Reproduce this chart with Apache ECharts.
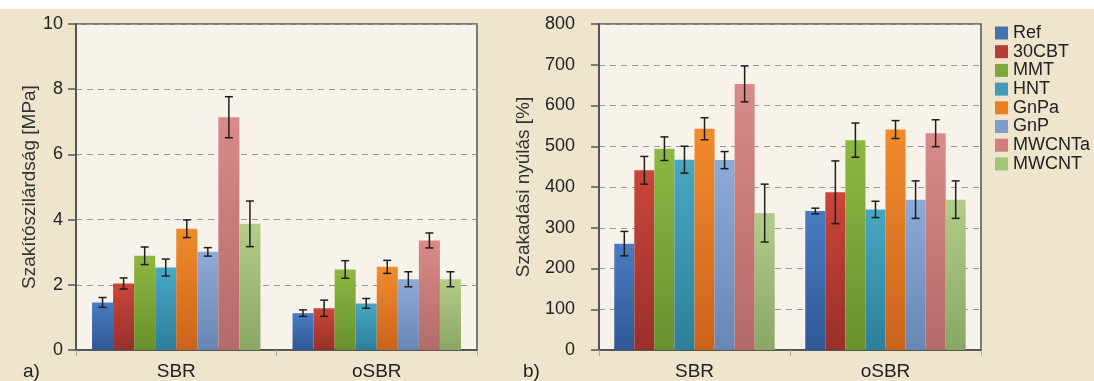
<!DOCTYPE html>
<html>
<head>
<meta charset="utf-8">
<script src="https://cdn.jsdelivr.net/npm/echarts@6/dist/echarts.min.js"></script>
<style>
html,body{margin:0;padding:0;}
body{width:1094px;height:381px;background:linear-gradient(to bottom,#ffffff 0,#ffffff 9px,#efe4cc 9px,#efe4cc 100%);}
#c{width:1094px;height:381px;}
</style>
</head>
<body>
<div id="c"></div>
<script>
const categories = ['SBR', 'oSBR'];
const seriesNames = ['Ref', '30CBT', 'MMT', 'HNT', 'GnPa', 'GnP', 'MWCNTa', 'MWCNT'];
// Tensile strength [MPa]
const tensileSBR     = [1.46, 2.04, 2.89, 2.53, 3.72, 3.01, 7.14, 3.87];
const tensileErrSBR  = [0.15, 0.17, 0.27, 0.26, 0.27, 0.13, 0.63, 0.70];
const tensileOSBR    = [1.13, 1.28, 2.47, 1.43, 2.55, 2.17, 3.36, 2.17];
const tensileErrOSBR = [0.10, 0.25, 0.27, 0.15, 0.20, 0.23, 0.23, 0.23];
// Elongation at break [%]
const elongSBR     = [261, 441, 494, 467, 543, 466, 653, 336];
const elongErrSBR  = [30, 34, 29, 33, 27, 21, 44, 71];
const elongOSBR    = [341, 387, 515, 345, 541, 369, 532, 369];
const elongErrOSBR = [7, 77, 42, 20, 22, 46, 33, 46];
const tensileTicks = { min: 0, max: 10, interval: 2 };
const elongTicks = { min: 0, max: 800, interval: 100 };

const colorsTop = ['#4a7cc2', '#c9463a', '#8db842', '#47a8c4', '#f28b2c', '#8eabd8', '#d98b89', '#b3cd88'];
const colorsBot = ['#2e5896', '#98302a', '#68902c', '#2e7f99', '#c9641b', '#6886b4', '#b36a68', '#8aa765'];
const legendColors = ['#4472b0', '#b63d33', '#7fa83a', '#3f9bb6', '#e8801f', '#7f9ccc', '#cf7f7d', '#a5c27c'];

const GAP = 0.16;
const N = seriesNames.length;

function barSeries(vals1, vals2, axisIdx) {
  return seriesNames.map((name, k) => ({
    type: 'bar', name: name,
    xAxisIndex: axisIdx, yAxisIndex: axisIdx,
    barGap: '0%', barCategoryGap: (GAP * 100) + '%',
    data: [vals1[k], vals2[k]],
    itemStyle: {
      color: new echarts.graphic.LinearGradient(0, 0, 0, 1, [
        { offset: 0, color: colorsTop[k] }, { offset: 1, color: colorsBot[k] }
      ])
    },
    emphasis: { disabled: true },
    animation: false
  }));
}

function errSeries(vals1, err1, vals2, err2, axisIdx) {
  const data = [];
  for (let k = 0; k < N; k++) {
    data.push([0, vals1[k], err1[k], k]);
    data.push([1, vals2[k], err2[k], k]);
  }
  return {
    type: 'custom', name: 'err' + axisIdx,
    xAxisIndex: axisIdx, yAxisIndex: axisIdx,
    z: 10, animation: false, silent: true,
    data: data,
    renderItem: function (params, api) {
      const ci = api.value(0), v = api.value(1), e = api.value(2), k = api.value(3);
      const catW = api.size([1, 0])[0];
      const bw = catW * (1 - GAP) / N;
      const c = api.coord([ci, v]);
      const x = c[0] + (k - (N - 1) / 2) * bw;
      const yt = api.coord([ci, v + e])[1];
      const yb = api.coord([ci, v - e])[1];
      const hw = 4;
      const st = { stroke: '#1e1e1e', lineWidth: 1.5 };
      return {
        type: 'group', children: [
          { type: 'line', shape: { x1: x, y1: yt, x2: x, y2: yb }, style: st },
          { type: 'line', shape: { x1: x - hw, y1: yt, x2: x + hw, y2: yt }, style: st },
          { type: 'line', shape: { x1: x - hw, y1: yb, x2: x + hw, y2: yb }, style: st }
        ]
      };
    }
  };
}

const FONT = 'Liberation Sans, Arial, sans-serif';
function xAxis(idx) {
  return {
    type: 'category', gridIndex: idx, data: categories,
    axisLine: { lineStyle: { color: '#555', width: 2 } },
    axisTick: { show: true, length: 6, lineStyle: { color: '#aaa' } },
    axisLabel: { fontSize: 19, color: '#222', fontFamily: FONT, margin: 12 },
    splitLine: { show: false }
  };
}
function yAxis(idx, t, name, gap, margin) {
  return {
    type: 'value', gridIndex: idx, min: t.min, max: t.max, interval: t.interval,
    name: name, nameLocation: 'middle', nameGap: gap,
    nameTextStyle: { fontSize: 19, color: '#333', fontFamily: FONT },
    axisLine: { show: true, lineStyle: { color: '#555', width: 2 } },
    axisTick: { show: true, length: 8, lineStyle: { color: '#555', width: 1.5 } },
    axisLabel: { fontSize: 18, color: '#222', fontFamily: FONT, margin: margin },
    splitLine: { show: true, lineStyle: { color: '#999', type: [6, 5], width: 1 } }
  };
}

const chart = echarts.init(document.getElementById('c'), null, { renderer: 'canvas' });
chart.setOption({
  backgroundColor: 'transparent',
  animation: false,
  grid: [
    { left: 76, right: 617, top: 24, bottom: 29, show: true, backgroundColor: '#f8f3ea', borderColor: '#555', borderWidth: 1.5 },
    { left: 599, right: 113, top: 24, bottom: 29, show: true, backgroundColor: '#f8f3ea', borderColor: '#555', borderWidth: 1.5 }
  ],
  legend: {
    data: seriesNames.map((n, k) => ({ name: n, itemStyle: { color: legendColors[k] } })),
    orient: 'vertical', left: 995, top: 24, padding: 0,
    icon: 'rect', itemWidth: 13, itemHeight: 13, itemGap: 0.7,
    textStyle: { fontSize: 18, color: '#222', fontFamily: FONT, lineHeight: 18 },
    selectedMode: false
  },
  xAxis: [xAxis(0), xAxis(1)],
  yAxis: [
    yAxis(0, tensileTicks, 'Szakítószilárdság [MPa]', 31, 13),
    yAxis(1, elongTicks, 'Szakadási nyúlás [%]', 66, 24)
  ],
  graphic: [
    { type: 'text', left: 23, top: 362, style: { text: 'a)', fontSize: 19, fill: '#222', fontFamily: FONT } },
    { type: 'text', left: 523, top: 362, style: { text: 'b)', fontSize: 19, fill: '#222', fontFamily: FONT } }
  ],
  series: [
    ...barSeries(tensileSBR, tensileOSBR, 0),
    ...barSeries(elongSBR, elongOSBR, 1),
    errSeries(tensileSBR, tensileErrSBR, tensileOSBR, tensileErrOSBR, 0),
    errSeries(elongSBR, elongErrSBR, elongOSBR, elongErrOSBR, 1)
  ]
});
</script>
</body>
</html>
